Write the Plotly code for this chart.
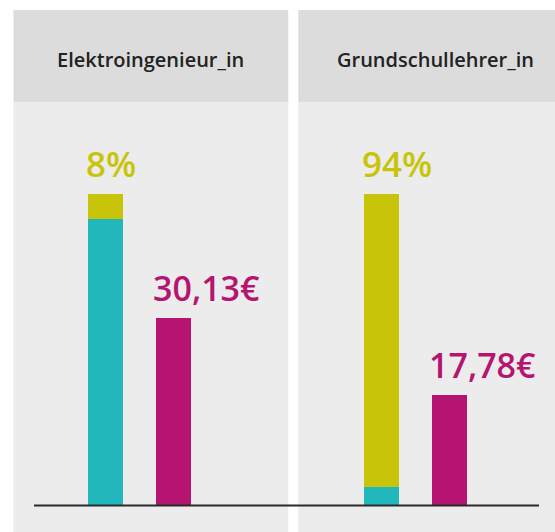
import plotly.graph_objects as go

# ---- data ----
occupations = ["Elektroingenieur_in", "Grundschullehrer_in"]
women_share = [8, 94]          # % women (yellow segment)
men_share = [92, 6]            # % men (teal segment)
hourly_wage = [30.13, 17.78]   # € per hour
share_labels = ["8%", "94%"]
wage_labels = ["30,13€", "17,78€"]

# ---- style ----
TEAL = "#21b7bb"
YELLOW = "#c8c40a"
MAGENTA = "#b51570"
PANEL = "#ececec"
HEADER = "#dcdcdc"
W, H = 555, 532

# positions (computed layout, in axis units: 1 unit = distance between bars)
group_gap = 276 / 68
x_share = [i * group_gap for i in range(len(occupations))]
x_wage = [i * group_gap + 1 for i in range(len(occupations))]
bw = 35 / 68
px_per_unit = 68
x0_px = 105.5
xr = [-x0_px / px_per_unit, (W - x0_px) / px_per_unit]

base_px = 505.5
top_px = 194.3
ppu = (base_px - top_px) / 100
yr = [-(H - base_px) / ppu, base_px / ppu]
wage_scale = 50 / 100
yr2 = [yr[0] * wage_scale, yr[1] * wage_scale]

fig = go.Figure()
fig.add_bar(x=x_share, y=men_share, width=bw, marker=dict(color=TEAL, line_width=0),
            name="Männer", hoverinfo="skip")
fig.add_bar(x=x_share, y=women_share, base=men_share, width=bw,
            marker=dict(color=YELLOW, line_width=0), name="Frauen", hoverinfo="skip")
fig.add_bar(x=x_wage, y=hourly_wage, width=bw, yaxis="y2",
            marker=dict(color=MAGENTA, line_width=0), name="Stundenlohn", hoverinfo="skip")

def py(p):
    return 1 - p / H

def pxx(p):
    return p / W

shapes = []
panels = [(13.5, 288.3), (298.3, 573)]
for (a, b) in panels:
    shapes.append(dict(type="rect", xref="paper", yref="paper", x0=pxx(a), x1=min(pxx(b), 1),
                       y0=0, y1=py(102), fillcolor=PANEL, line_width=0, layer="below"))
    shapes.append(dict(type="rect", xref="paper", yref="paper", x0=pxx(a), x1=min(pxx(b), 1),
                       y0=py(102), y1=py(10), fillcolor=HEADER, line_width=0, layer="below"))
shapes.append(dict(type="line", xref="paper", yref="y", x0=pxx(34), x1=pxx(539), y0=0, y1=0,
                   line=dict(color="#2a2a2a", width=2), layer="above"))

annotations = []
for (a, b), name in zip(panels, occupations):
    annotations.append(dict(x=pxx((a + b) / 2), y=py(59.5), xref="paper", yref="paper",
                            text=name, showarrow=False, xanchor="center", yanchor="middle",
                            font=dict(family="Open Sans", size=20, color="#222222", weight=600)))
for i in range(len(occupations)):
    annotations.append(dict(x=x_share[i] - bw / 2, y=100, xref="x", yref="y",
                            text=share_labels[i], showarrow=False, xanchor="left", yanchor="bottom",
                            xshift=-4, yshift=5,
                            font=dict(family="Open Sans", size=35, color=YELLOW, weight=600)))
    annotations.append(dict(x=x_wage[i] - bw / 2, y=hourly_wage[i], xref="x", yref="y2",
                            text=wage_labels[i], showarrow=False, xanchor="left", yanchor="bottom",
                            xshift=-5, yshift=5,
                            font=dict(family="Open Sans", size=34, color=MAGENTA, weight=600)))

fig.update_layout(
    width=W, height=H, margin=dict(l=0, r=0, t=0, b=0),
    paper_bgcolor="white", plot_bgcolor="rgba(0,0,0,0)",
    showlegend=False, barmode="overlay", bargap=0,
    xaxis=dict(range=xr, visible=False, fixedrange=True),
    yaxis=dict(range=yr, visible=False, fixedrange=True),
    yaxis2=dict(range=yr2, visible=False, overlaying="y", fixedrange=True),
    shapes=shapes, annotations=annotations,
)
fig.write_html("out.html", config={"displayModeBar": False})
